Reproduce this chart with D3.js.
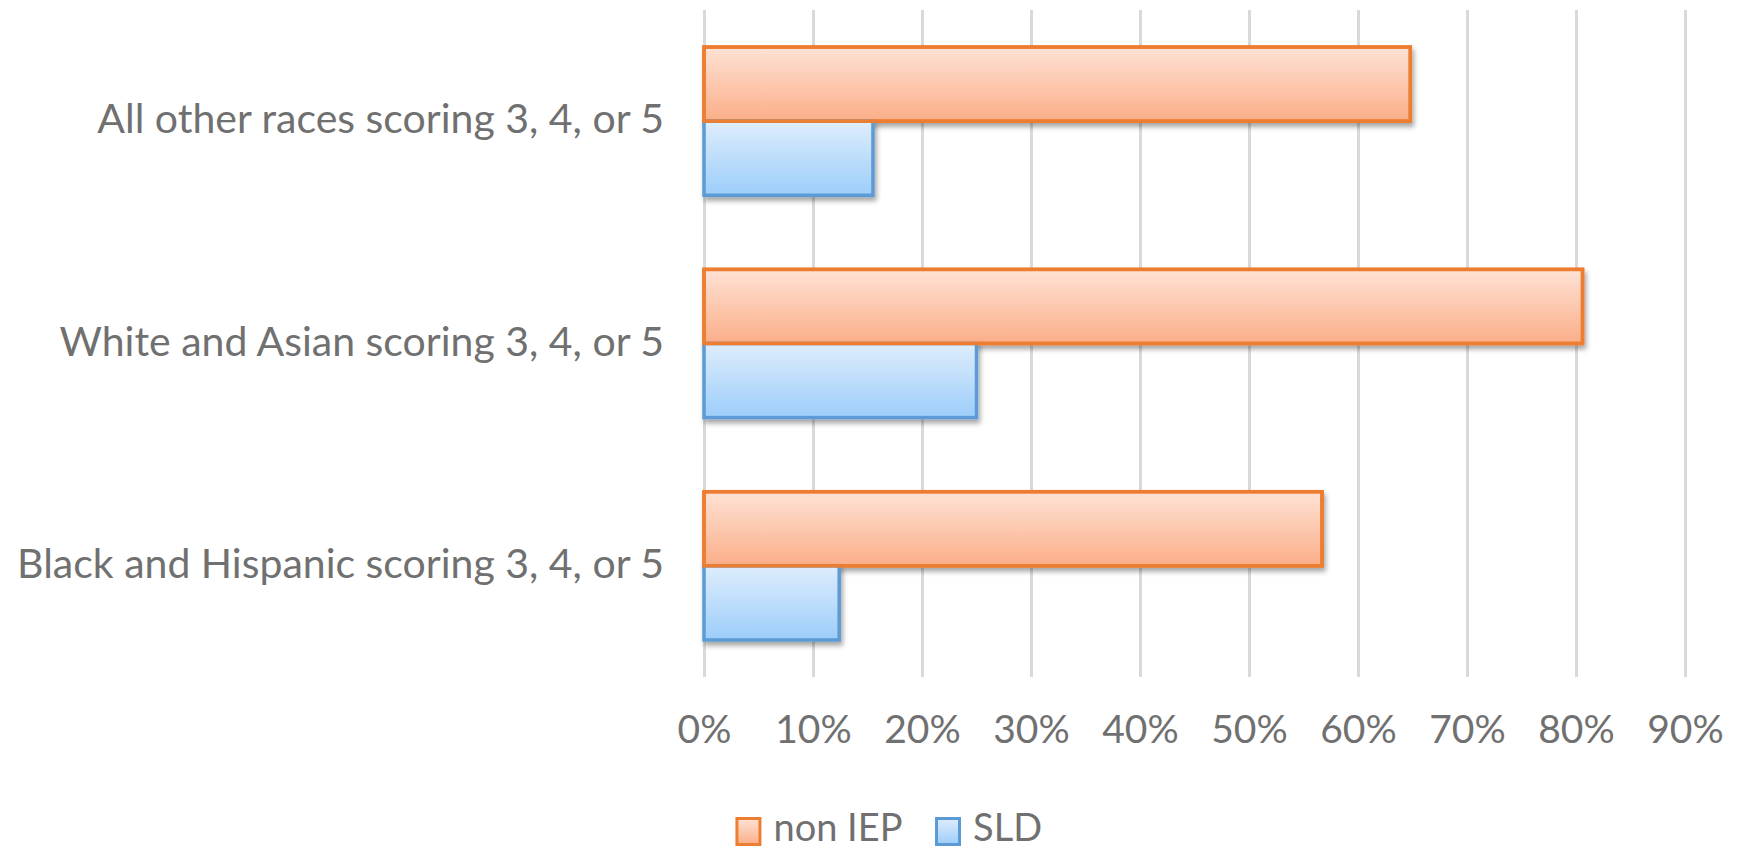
<!DOCTYPE html>
<html>
<head>
<meta charset="utf-8">
<script src="https://cdn.jsdelivr.net/npm/d3@7"></script>
<style>
  html, body { margin: 0; padding: 0; background: #ffffff; }
  svg { display: block; }
</style>
</head>
<body>
<svg id="chart" width="1742" height="850"></svg>
<script>
// ---- data ----
const categories = [
  "All other races scoring 3, 4, or 5",
  "White and Asian scoring 3, 4, or 5",
  "Black and Hispanic scoring 3, 4, or 5"
];
const seriesNames = ["non IEP", "SLD"];
const nonIEP = [0.648, 0.806, 0.567];
const sld = [0.155, 0.250, 0.124];
const tickValues = [0, 0.1, 0.2, 0.3, 0.4, 0.5, 0.6, 0.7, 0.8, 0.9];

// ---- layout ----
const plot = { left: 704, right: 1685, top: 10, bottom: 677 };
const FONT = "Lato, 'Open Sans', sans-serif";
const TEXT = "#707070";
const GRID = "#d9d9d9";

const svg = d3.select("#chart");
const defs = svg.append("defs");

function grad(id, top, bottom) {
  const g = defs.append("linearGradient").attr("id", id)
    .attr("x1", 0).attr("y1", 0).attr("x2", 0).attr("y2", 1);
  g.append("stop").attr("offset", "0%").attr("stop-color", top);
  g.append("stop").attr("offset", "100%").attr("stop-color", bottom);
}
grad("gOrange", "#fee2d5", "#fbae88");
grad("gBlue", "#deedfc", "#9ccdfa");

const f = defs.append("filter").attr("id", "shadow")
  .attr("x", "-5%").attr("y", "-20%").attr("width", "115%").attr("height", "160%");
f.append("feDropShadow").attr("dx", 2).attr("dy", 4).attr("stdDeviation", 2.5)
  .attr("flood-color", "#000").attr("flood-opacity", 0.35);

const x = d3.scaleLinear().domain([0, 0.9]).range([plot.left, plot.right]);
const y0 = d3.scaleBand().domain(categories).range([plot.top, plot.bottom])
  .paddingInner(1 / 3).paddingOuter(1 / 6);
const y1 = d3.scaleBand().domain(seriesNames).range([0, y0.bandwidth()]);

const series = [
  { name: "non IEP", values: nonIEP, fill: "url(#gOrange)", stroke: "#ED7D31" },
  { name: "SLD", values: sld, fill: "url(#gBlue)", stroke: "#5B9BD5" }
];

// ---- gridlines via axis ----
const xAxis = d3.axisBottom(x)
  .tickValues(tickValues)
  .tickFormat(d3.format(".0%"))
  .tickSize(-(plot.bottom - plot.top));
const gx = svg.append("g").attr("transform", `translate(0,${plot.bottom})`).call(xAxis);
gx.select(".domain").remove();
gx.selectAll(".tick line").attr("stroke", GRID).attr("stroke-width", 3);
gx.selectAll(".tick text")
  .attr("y", 66).attr("dy", 0)
  .attr("fill", TEXT)
  .style("font-family", FONT).style("font-size", "39px");

// ---- bars ----
series.forEach(s => {
  svg.append("g").attr("filter", "url(#shadow)")
    .selectAll("rect").data(categories).join("rect")
    .attr("x", x(0))
    .attr("y", c => y0(c) + y1(s.name))
    .attr("width", (c, i) => x(s.values[i]) - x(0))
    .attr("height", y1.bandwidth())
    .attr("fill", s.fill)
    .attr("stroke", s.stroke)
    .attr("stroke-width", 3.5);
});
// re-stroke the orange bars so their edge stays on top
svg.append("g").selectAll("rect").data(categories).join("rect")
  .attr("x", x(0))
  .attr("y", c => y0(c) + y1("non IEP"))
  .attr("width", (c, i) => x(nonIEP[i]) - x(0))
  .attr("height", y1.bandwidth())
  .attr("fill", "none")
  .attr("stroke", "#ED7D31")
  .attr("stroke-width", 3.5);

// ---- category axis ----
const yAxis = d3.axisLeft(y0).tickSize(0).tickPadding(40);
const gy = svg.append("g").attr("transform", `translate(${plot.left},0)`).call(yAxis);
gy.select(".domain").remove();
gy.selectAll(".tick text")
  .attr("dy", 0).attr("y", 12)
  .attr("fill", TEXT)
  .style("font-family", FONT).style("font-size", "41px");

// ---- legend ----
const legend = svg.append("g");
const legendCenter = 888, sw = 26, shH = 29, gapText = 12, gapItem = 34;
const items = legend.selectAll("g").data(series).join("g");
items.append("rect")
  .attr("width", sw - 3).attr("height", shH - 3)
  .attr("x", 1.5).attr("y", 1.5)
  .attr("fill", d => d.fill).attr("stroke", d => d.stroke).attr("stroke-width", 3);
items.append("text")
  .attr("x", sw + gapText).attr("y", 24)
  .attr("fill", TEXT)
  .style("font-family", FONT).style("font-size", "38px")
  .text(d => d.name);
let widths = [];
items.each(function () { widths.push(this.getBBox().width); });
const total = d3.sum(widths) + gapItem * (widths.length - 1);
let cx = legendCenter - total / 2;
items.attr("transform", (d, i) => {
  const t = `translate(${cx},817)`;
  cx += widths[i] + gapItem;
  return t;
});
</script>
</body>
</html>
